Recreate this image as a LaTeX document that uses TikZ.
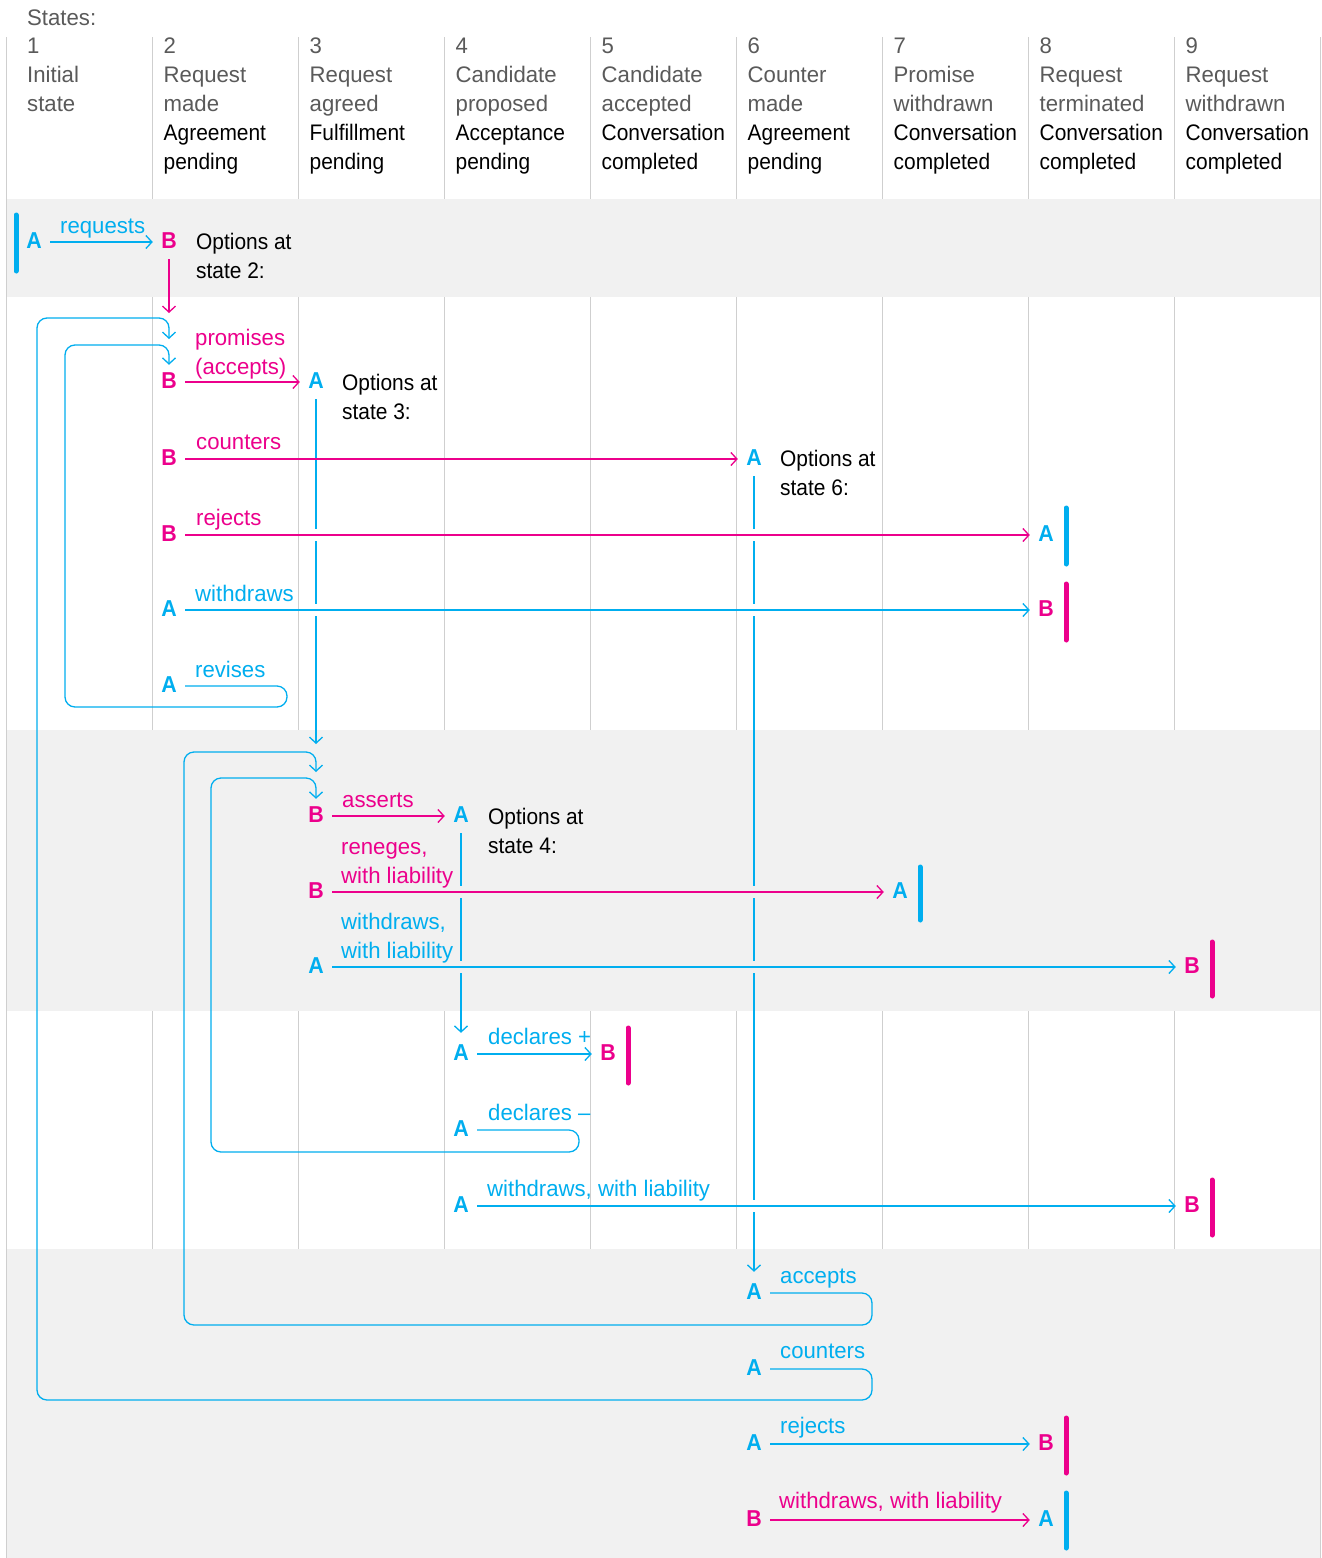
\documentclass[tikz,border=0pt]{standalone}
\usepackage{fontspec}
\setmainfont{Liberation Sans}[FakeStretch=0.93]
\newfontfamily\lightfam{Liberation Sans}[FakeStretch=0.985]
\usetikzlibrary{arrows.meta,calc}
\definecolor{cy}{HTML}{00AEEF}
\definecolor{mg}{HTML}{EC008C}
\definecolor{hdr}{HTML}{5A5A5A}
\definecolor{gridc}{HTML}{CFCFCF}
\definecolor{bandc}{HTML}{F1F1F1}
\newcommand{\gr}[1]{\textcolor{hdr}{\lightfam #1}}
\tikzset{
  letA/.style={font=\fontsize{23}{29}\selectfont\bfseries, text=cy, inner sep=0pt,
    minimum width=32pt, minimum height=34pt, text height=16.5pt, text depth=4pt},
  letB/.style={letA, text=mg},
  lbl/.style={anchor=base west, inner sep=0pt, align=left},
  lblA/.style={lbl, text=cy, font=\fontsize{22.5}{29}\selectfont\lightfam},
  lblB/.style={lbl, text=mg, font=\fontsize{22.5}{29}\selectfont\lightfam},
  opt/.style={lbl, text=black},
  hd/.style={lbl, text=black},
  lineA/.style={draw=cy, line width=1.3pt},
  lineB/.style={draw=mg, line width=1.3pt},
  conA/.style={lineA, -{Straight Barb[length=6pt,width=13pt]}},
  conB/.style={lineB, -{Straight Barb[length=6pt,width=13pt]}},
  loopA/.style={conA, rounded corners=10pt},
  barA/.style={draw=cy, line width=5pt, line cap=round},
  barB/.style={draw=mg, line width=5pt, line cap=round},
  gridline/.style={draw=gridc, line width=1.4pt},
}
\begin{document}
\begin{tikzpicture}[x=1pt, y=-1pt, font=\fontsize{22.5}{29}\selectfont]
\useasboundingbox (0,0) rectangle (1322,1558);
\fill[white] (0,0) rectangle (1322,1558);
% column lines
\foreach \i in {1,...,8} { \draw[gridline] (6.5+146*\i,37) -- (6.5+146*\i,1558); }
% bands
\fill[bandc] (6.5,199) rectangle (1320.5,297);
\fill[bandc] (6.5,730) rectangle (1320.5,1011);
\fill[bandc] (6.5,1249) rectangle (1320.5,1558);
\draw[gridline] (6.5,37) -- (6.5,1558);
\draw[gridline] (1320.5,37) -- (1320.5,1558);

% header (base anchor = baseline of the last line)
\node[lbl] (states) at (27,25) {\gr{States:}};
\node[hd] (h1) at (27,111) {\gr{1}\\\gr{Initial}\\\gr{state}};
\node[hd] (h2) at (163.5,169) {\gr{2}\\\gr{Request}\\\gr{made}\\Agreement\\pending};
\node[hd] (h3) at (309.5,169) {\gr{3}\\\gr{Request}\\\gr{agreed}\\Fulfillment\\pending};
\node[hd] (h4) at (455.5,169) {\gr{4}\\\gr{Candidate}\\\gr{proposed}\\Acceptance\\pending};
\node[hd] (h5) at (601.5,169) {\gr{5}\\\gr{Candidate}\\\gr{accepted}\\Conversation\\completed};
\node[hd] (h6) at (747.5,169) {\gr{6}\\\gr{Counter}\\\gr{made}\\Agreement\\pending};
\node[hd] (h7) at (893.5,169) {\gr{7}\\\gr{Promise}\\\gr{withdrawn}\\Conversation\\completed};
\node[hd] (h8) at (1039.5,169) {\gr{8}\\\gr{Request}\\\gr{terminated}\\Conversation\\completed};
\node[hd] (h9) at (1185.5,169) {\gr{9}\\\gr{Request}\\\gr{withdrawn}\\Conversation\\completed};

% ---- state 1 -> 2
\node[letA] (a1) at (34,242) {A};
\node[letB] (b2) at (169,242) {B};
\draw[barA] (16,215) -- (16,271);
\draw[conA] (a1.east) -- (b2.west);
\node[lblA] (l-req) at (60,233) {requests};
\node[opt] (o2) at (196,278) {Options at\\state 2:};
\coordinate (b2end) at (169,313);
\draw[conB] (b2.south) -- (b2end);

% ---- options at state 2
\node[letB] (bp) at (169,382) {B};
\node[letA] (a3) at (316,382) {A};
\draw[conB] (bp.east) -- (a3.west);
\node[lblB] (l-prom) at (195,374) {promises\\(accepts)};
\node[opt] (o3) at (342,419) {Options at\\state 3:};

\node[letB] (bc) at (169,459) {B};
\node[letA] (a6) at (754,459) {A};
\node[lblB] (l-cnt) at (196,449) {counters};
\node[opt] (o6) at (780,495) {Options at\\state 6:};

\node[letB] (bj) at (169,535) {B};
\node[letA] (aj8) at (1046,535) {A};
\draw[conB] (bj.east) -- (aj8.west);
\node[lblB] (l-rej) at (196,525) {rejects};
\draw[barA] (1066,508) -- (1066,564);

\node[letA] (aw) at (169,610) {A};
\node[letB] (bw8) at (1046,610) {B};
\draw[conA] (aw.east) -- (bw8.west);
\node[lblA] (l-wd) at (195,601) {withdraws};
\draw[barB] (1066,584) -- (1066,640);

\node[letA] (ar) at (169,686) {A};
\node[lblA] (l-rev) at (195,677) {revises};

% vertical from state 3 A
\coordinate (s3end) at (316,744);
\draw[lineA] (a3.south) -- (316,529);
\draw[lineA] (316,541) -- (316,604);
\draw[conA] (316,616) -- (s3end);
\draw[conB] (bc.east) -- (a6.west);

% ---- state 4 area
\node[letB] (bs) at (316,816) {B};
\node[letA] (a4) at (461,816) {A};
\draw[conB] (bs.east) -- (a4.west);
\node[lblB] (l-ass) at (342,807) {asserts};
\node[opt] (o4) at (488,853) {Options at\\state 4:};

\node[letB] (br) at (316,892) {B};
\node[letA] (a7) at (900,892) {A};
\draw[conB] (br.east) -- (a7.west);
\node[lblB] (l-ren) at (341,883) {reneges,\\with liability};
\draw[barA] (920,867) -- (920,920);

\node[letA] (aw4) at (316,967) {A};
\node[letB] (b9) at (1192,967) {B};
\draw[conA] (aw4.east) -- (b9.west);
\node[lblA] (l-wwl) at (341,958) {withdraws,\\with liability};
\draw[barB] (1212,942) -- (1212,996);

\node[letA] (adp) at (461,1054) {A};
\node[letB] (b5) at (608,1054) {B};
\draw[conA] (adp.east) -- (b5.west);
\node[lblA] (l-dp) at (488,1044) {declares +};
\draw[barB] (628,1028) -- (628,1083);

\node[letA] (adm) at (461,1130) {A};
\node[lblA] (l-dm) at (488,1120) {declares –};

\node[letA] (awl) at (461,1206) {A};
\node[letB] (b9b) at (1192,1206) {B};
\draw[conA] (awl.east) -- (b9b.west);
\node[lblA] (l-wwl2) at (487,1196) {withdraws, with liability};
\draw[barB] (1212,1180) -- (1212,1235);

% vertical from state 4 A
\coordinate (s4end) at ([yshift=4pt]adp.north);
\draw[lineA] (a4.south) -- (461,886);
\draw[lineA] (461,898) -- (461,961);
\draw[conA] (461,973) -- (s4end);

% ---- state 6 area
\node[letA] (aacc) at (754,1293) {A};
\node[lblA] (l-acc) at (780,1283) {accepts};
\node[letA] (ac6) at (754,1369) {A};
\node[lblA] (l-cnt6) at (780,1358) {counters};

\node[letA] (arj) at (754,1444) {A};
\node[letB] (b8c) at (1046,1444) {B};
\draw[conA] (arj.east) -- (b8c.west);
\node[lblA] (l-rej6) at (780,1433) {rejects};
\draw[barB] (1066,1418) -- (1066,1473);

\node[letB] (bwl) at (754,1520) {B};
\node[letA] (a8c) at (1046,1520) {A};
\draw[conB] (bwl.east) -- (a8c.west);
\node[lblB] (l-wwl3) at (779,1508) {withdraws, with liability};
\draw[barA] (1066,1493) -- (1066,1548);

% vertical from state 6 A
\coordinate (s6end) at ([yshift=4pt]aacc.north);
\draw[lineA] (a6.south) -- (754,529);
\draw[lineA] (754,541) -- (754,604);
\draw[lineA] (754,616) -- (754,886);
\draw[lineA] (754,898) -- (754,961);
\draw[lineA] (754,973) -- (754,1200);
\draw[conA] (754,1212) -- (s6end);

% ---- loops
\coordinate (bpin) at (169,339);
\draw[loopA] (ar.east) -- (287,686) -- (287,707) -- (65,707) -- (65,345) -- (169,345) -- (bp.north);
\draw[loopA] (ac6.east) -- (872,1369) -- (872,1400) -- (37,1400) -- (37,318) -- (169,318) -- (bpin);
\coordinate (bsin) at (316,772);
\draw[loopA] (adm.east) -- (579,1130) -- (579,1152) -- (211,1152) -- (211,778) -- (316,778) -- (bs.north);
\draw[loopA] (aacc.east) -- (872,1293) -- (872,1325) -- (184,1325) -- (184,752) -- (316,752) -- (bsin);
\end{tikzpicture}
\end{document}
